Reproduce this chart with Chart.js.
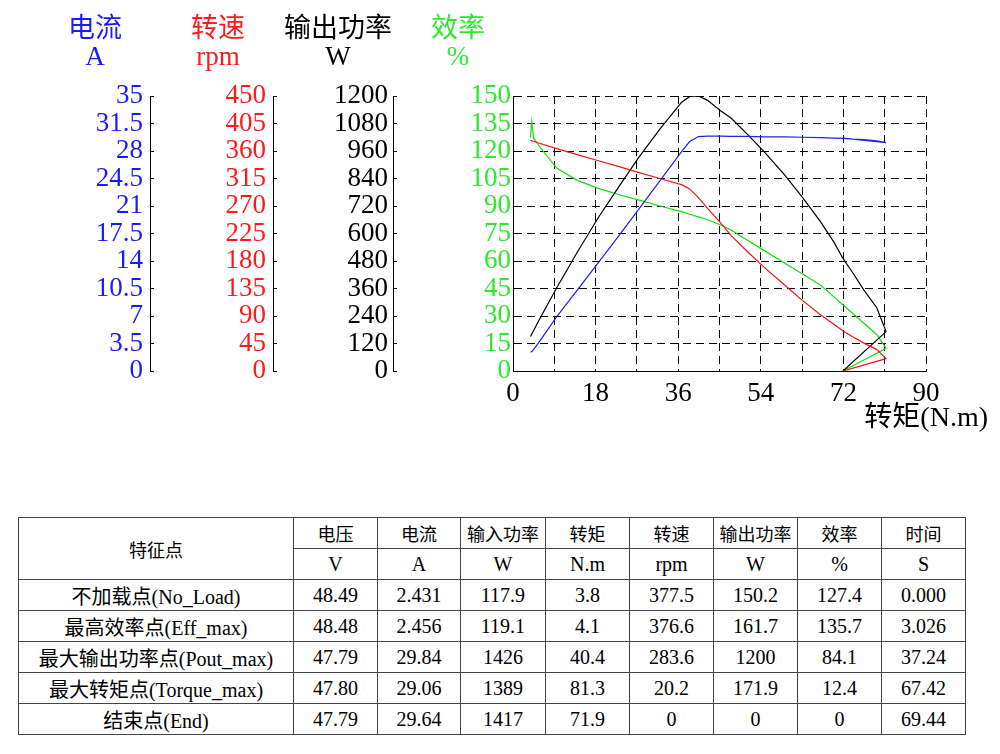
<!DOCTYPE html>
<html>
<head>
<meta charset="utf-8">
<script src="https://cdn.jsdelivr.net/npm/chart.js@4.4.0/dist/chart.umd.min.js"></script>
<style>
body { margin:0; background:#fff; width:1000px; height:754px; overflow:hidden; position:relative; }
#chartBox { position:absolute; left:0; top:0; width:1000px; height:450px; }
#tabla { position:absolute; left:18px; top:517px; width:947px; border-collapse:collapse; table-layout:fixed;
  font-family:'Liberation Serif','Noto Sans CJK SC',serif; font-size:20px; color:#000; }
#tabla td { border:1px solid #444; text-align:center; padding:0; height:30px; white-space:nowrap; }
#tabla td.cn { font-size:18px; }
</style>
</head>
<body>
<div id="chartBox"><canvas id="canvasCurvas" width="1000" height="450"></canvas></div>
<table id="tabla"></table>
<script>
// curvas do motor (eixo x = torque)
const torque     = [3.8, 4.1, 4.5, 5.6, 9.5, 14, 18.6, 23.3, 27.3, 32, 36.7, 38.5, 40.4, 42.4, 45.3, 47.5, 51, 54.7, 59, 63, 67, 70, 72, 74, 76.4, 79.3, 81.3, 71.9];
const current    = [2.43, 2.46, 2.75, 3.6, 6.9, 10.3, 13.8, 17.4, 20.5, 24.2, 27.9, 29.2, 29.84, 29.9, 29.9, 29.85, 29.85, 29.8, 29.8, 29.75, 29.7, 29.65, 29.6, 29.5, 29.45, 29.3, 29.06, 29.64];
const speed      = [377.5, 376.6, 376, 373, 364, 354, 344, 334, 325, 315, 305, 298, 283.6, 266, 242, 222, 196, 170, 142, 116, 92, 76, 65, 56, 46, 35, 20.2, 0];
const outPower   = [150.2, 161.7, 177, 219, 362, 518, 670, 811, 929, 1055, 1172, 1198, 1200, 1181, 1135, 1104, 1035, 957, 860, 760, 652, 560, 488, 430, 355, 275, 171.9, 0];
const efficiency = [127.4, 135.7, 127, 123, 110.7, 104, 99.6, 96, 93.3, 90, 86.9, 85.5, 84.1, 82.5, 79.6, 76.9, 71.5, 65.8, 59.2, 53, 46.9, 40.3, 35.9, 31.5, 26.2, 19.8, 12.4, 0];

// escalas: [min, max, passo]
const currentRange = [0, 35, 3.5];
const speedRange   = [0, 450, 45];
const powerRange   = [0, 1200, 120];
const effRange     = [0, 150, 15];
const torqueRange  = [0, 90, 9];

const headNames = ['电流', '转速', '输出功率', '效率'];
const headUnits = ['A', 'rpm', 'W', '%'];
const xTitle = '转矩(N.m)';

// tabela
const colHeads = ['电压', '电流', '输入功率', '转矩', '转速', '输出功率', '效率', '时间'];
const colUnits = ['V', 'A', 'W', 'N.m', 'rpm', 'W', '%', 'S'];
const rowNames = ['不加载点(No_Load)', '最高效率点(Eff_max)', '最大输出功率点(Pout_max)', '最大转矩点(Torque_max)', '结束点(End)'];
const rowNoLoad  = ['48.49', '2.431', '117.9', '3.8', '377.5', '150.2', '127.4', '0.000'];
const rowEffMax  = ['48.48', '2.456', '119.1', '4.1', '376.6', '161.7', '135.7', '3.026'];
const rowPoutMax = ['47.79', '29.84', '1426', '40.4', '283.6', '1200', '84.1', '37.24'];
const rowTqMax   = ['47.80', '29.06', '1389', '81.3', '20.2', '171.9', '12.4', '67.42'];
const rowEnd     = ['47.79', '29.64', '1417', '71.9', '0', '0', '0', '69.44'];

const axisIds = ['yA', 'yRpm', 'yW', 'yEff'];
const axisColors = ['#1a1aff', '#ff1a1a', '#000000', '#2ee82e'];
const lineColors = ['#1f1fe6', '#f01414', '#000000', '#10dd10'];
const serif = "'Liberation Serif', 'Noto Sans CJK SC', serif";

function semVirgula(v) { return String(v); }

function eixoLateral(range, color, largura, peso, pad) {
    return {
        type: 'linear', position: 'left', weight: peso,
        min: range[0], max: range[1],
        afterFit: function (s) { s.width = largura; },
        ticks: { stepSize: range[2], color: color, autoSkip: false, padding: pad,
                 font: { family: serif, size: 27 }, callback: semVirgula },
        grid: { drawOnChartArea: false, drawTicks: true, tickLength: -4, color: '#000' },
        border: { display: true, color: '#000', width: 1 }
    };
}

let scales = {
    x: {
        type: 'linear', position: 'bottom',
        min: torqueRange[0], max: torqueRange[1],
        afterFit: function (s) { s.height = 40; },
        ticks: { stepSize: torqueRange[2], autoSkip: false, maxRotation: 0, padding: 7, color: '#000',
                 font: { family: serif, size: 27 },
                 callback: function (v) { return v % 18 === 0 ? String(v) : ''; } },
        grid: { drawTicks: false, color: '#000', lineWidth: 1 },
        border: { display: true, color: '#000', width: 1, dash: [8, 5] }
    },
    yA: eixoLateral(currentRange, axisColors[0], 150, 4, 11),
    yRpm: eixoLateral(speedRange, axisColors[1], 123, 3, 11),
    yW: eixoLateral(powerRange, axisColors[2], 120, 2, 9),
    yEff: {
        type: 'linear', position: 'left', weight: 1,
        min: effRange[0], max: effRange[1],
        afterFit: function (s) { s.width = 120; },
        ticks: { stepSize: effRange[2], color: axisColors[3], autoSkip: false, padding: 2,
                 font: { family: serif, size: 27 }, callback: semVirgula },
        grid: { drawTicks: false, color: '#000', lineWidth: 1 },
        border: { display: true, color: '#000', width: 1, dash: [8, 5] }
    }
};

const series = [current, speed, outPower, efficiency];
let datasets = series.map(function (vals, k) {
    return {
        label: headNames[k],
        data: torque.map(function (t, i) { return { x: t, y: vals[i] }; }),
        yAxisID: axisIds[k],
        borderColor: lineColors[k],
        borderWidth: 1.2,
        pointRadius: 0,
        fill: false,
        tension: 0
    };
});

const cabecalhos = {
    id: 'cabecalhos',
    afterDraw: function (chart) {
        let ctx = chart.ctx;
        ctx.save();
        ctx.textAlign = 'center';
        ctx.textBaseline = 'middle';
        axisIds.forEach(function (id, k) {
            let s = chart.scales[id];
            let cx = s.right - 55;
            ctx.fillStyle = axisColors[k];
            ctx.font = "27px 'Noto Sans CJK SC'";
            ctx.fillText(headNames[k], cx, 27);
            ctx.font = "27px 'Liberation Serif'";
            ctx.fillText(headUnits[k], cx, 58);
        });
        ctx.fillStyle = '#000';
        ctx.textAlign = 'right';
        ctx.font = "28px " + serif;
        ctx.fillText(xTitle, 988, 419);
        ctx.restore();
    }
};

let canvasCurvas = document.getElementById('canvasCurvas').getContext('2d');
let grafico = new Chart(canvasCurvas, {
    type: 'line',
    data: { datasets: datasets },
    options: {
        responsive: false,
        animation: false,
        layout: { padding: { left: 0, right: 74, top: 96, bottom: 39 } },
        plugins: { legend: { display: false }, tooltip: { enabled: false } },
        scales: scales
    },
    plugins: [cabecalhos]
});

// monta a tabela
let tabela = document.getElementById('tabla');
let html = '<colgroup><col style="width:275px">';
colHeads.forEach(function (h, i) { html += '<col style="width:' + (i === 1 ? 83 : (i === 2 ? 85 : 84)) + 'px">'; });
html += '</colgroup>';
html += '<tr><td rowspan="2" class="cn">特征点</td>';
colHeads.forEach(function (h) { html += '<td class="cn">' + h + '</td>'; });
html += '</tr><tr>';
colUnits.forEach(function (u) { html += '<td>' + u + '</td>'; });
html += '</tr>';
[rowNoLoad, rowEffMax, rowPoutMax, rowTqMax, rowEnd].forEach(function (row, r) {
    html += '<tr><td>' + rowNames[r] + '</td>';
    row.forEach(function (v) { html += '<td>' + v + '</td>'; });
    html += '</tr>';
});
tabela.innerHTML = html;
</script>
</body>
</html>
